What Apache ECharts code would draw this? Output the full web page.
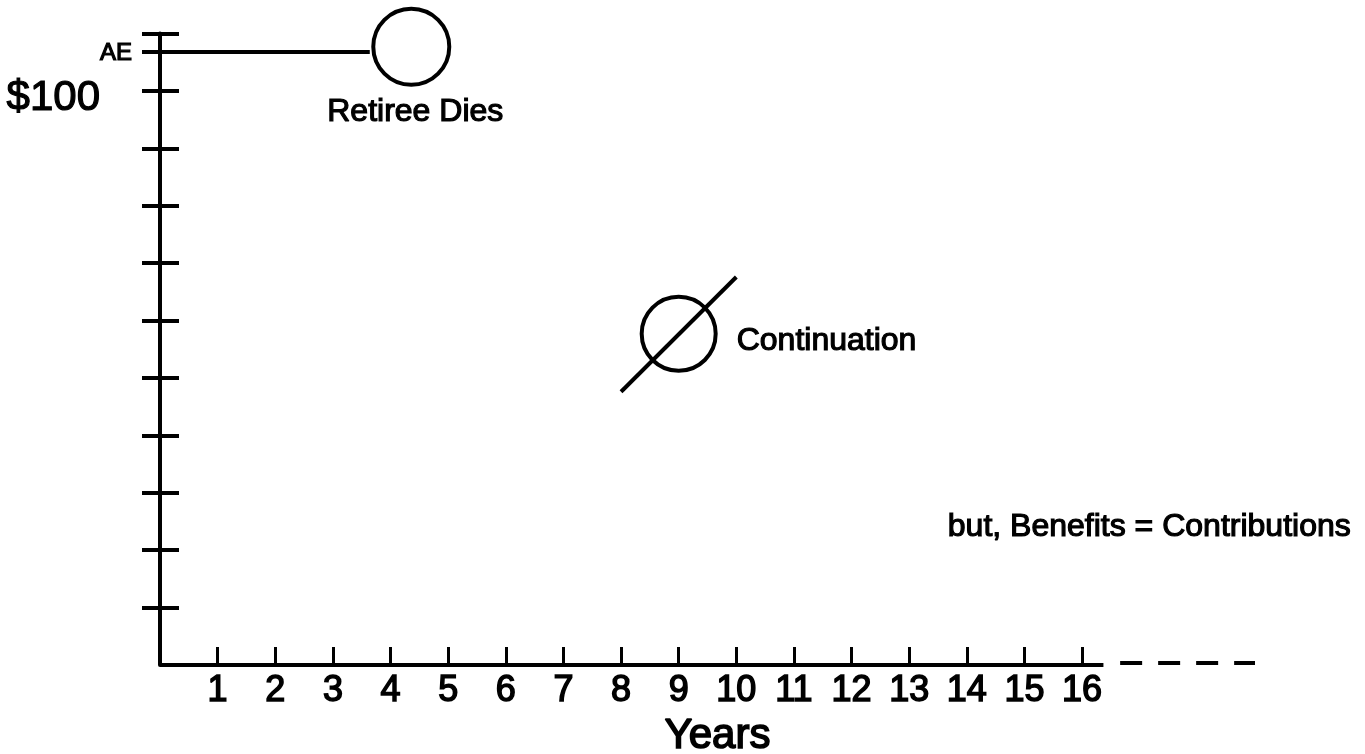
<!DOCTYPE html>
<html>
<head>
<meta charset="utf-8">
<script src="https://cdn.jsdelivr.net/npm/echarts@6/dist/echarts.min.js"></script>
<style>
html,body{margin:0;padding:0;background:#fff;}
#chart{width:1365px;height:754px;}
</style>
</head>
<body>
<div id="chart"></div>
<script>
// ---- data ----
const yearTicks = [1,2,3,4,5,6,7,8,9,10,11,12,13,14,15,16];
const aeLevel = 106.8;
const yTickValues = [10,20,30,40,50,60,70,80,90,100,110,aeLevel];
const yLabelValues = [100, aeLevel];
const aeLine = [[0, aeLevel],[3.64, aeLevel]];
const retireeDies = [[4.36, 107.7]];
const continuation = [[9.0, 57.7]];
const slash = [[8.0, 47.6],[10.0, 67.6]];
const xAxisSolid = [[0, 0],[16.37, 0]];
const xAxisDashed = [[16.66, 0.35],[19, 0.35]];
const note = [[13.67, 24.0]];

const FONT = "'Liberation Sans', Arial, sans-serif";
const heavy = {textBorderColor:'#000', textBorderWidth:1.2};
const chart = echarts.init(document.getElementById('chart'), null, {renderer:'canvas'});
const yCommon = {
  type:'value', min:0, max:110, interval:10, position:'left',
  splitLine:{show:false}
};
const circleStyle = {color:'rgba(255,255,255,0)', borderColor:'#000', borderWidth:4, opacity:1};
chart.setOption({
  animation:false,
  backgroundColor:'#fff',
  grid:{left:160, right:110, top:33.6, bottom:89, containLabel:false, outerBoundsMode:'none'},
  xAxis:{
    type:'value', min:0, max:19, interval:1,
    axisLine:{show:false},
    splitLine:{show:false},
    axisTick:{show:true, inside:true, length:18, customValues:yearTicks, lineStyle:{color:'#000', width:3}},
    axisLabel:{show:true, customValues:yearTicks, margin:8, color:'#000', fontFamily:FONT, fontSize:36, textBorderColor:'#000', textBorderWidth:1.5},
    name:'Years', nameLocation:'middle', nameGap:41,
    nameTextStyle:{color:'#000', fontFamily:FONT, fontSize:42, padding:[0,0,0,20], textBorderColor:'#000', textBorderWidth:1.6}
  },
  yAxis:[
    Object.assign({}, yCommon, {
      axisLine:{show:true, lineStyle:{color:'#000', width:4}},
      axisTick:{show:true, inside:false, length:18, customValues:yTickValues, lineStyle:{color:'#000', width:4}},
      axisLabel:{show:true, customValues:yLabelValues, margin:28, color:'#000',
        formatter:function(v){ return v === 100 ? '{b|$100}' : '{a|AE}'; },
        rich:{
          a:{fontFamily:FONT, fontSize:24, color:'#000', padding:[2,0,0,0], textBorderColor:'#000', textBorderWidth:1.2},
          b:{fontFamily:FONT, fontSize:42, color:'#000', padding:[15,32,0,0], textBorderColor:'#000', textBorderWidth:1.2}
        }
      }
    }),
    Object.assign({}, yCommon, {
      axisLine:{show:false},
      axisTick:{show:true, inside:true, length:19, customValues:yTickValues, lineStyle:{color:'#000', width:4}},
      axisLabel:{show:false}
    })
  ],
  series:[
    {type:'line', data:xAxisSolid, symbol:'none', clip:false, lineStyle:{color:'#000', width:4}},
    {type:'line', data:xAxisDashed, symbol:'none', clip:false, lineStyle:{color:'#000', width:4, type:[22,16]}},
    {type:'line', data:aeLine, symbol:'none', clip:false, lineStyle:{color:'#000', width:4}},
    {type:'line', data:slash, symbol:'none', clip:false, lineStyle:{color:'#000', width:4}, z:3},
    {type:'scatter', data:retireeDies, symbol:'circle', symbolSize:76, clip:false,
      itemStyle:circleStyle,
      label:Object.assign({show:true, position:'bottom', distance:9, offset:[4,0], formatter:'Retiree Dies', color:'#000', fontFamily:FONT, fontSize:32}, heavy)
    },
    {type:'scatter', data:continuation, symbol:'circle', symbolSize:74, clip:false,
      itemStyle:circleStyle,
      label:Object.assign({show:true, position:'right', distance:19, offset:[0,7], formatter:'Continuation', color:'#000', fontFamily:FONT, fontSize:32}, heavy)
    },
    {type:'scatter', data:note, symbolSize:0, clip:false,
      itemStyle:{opacity:1},
      label:Object.assign({show:true, position:'right', distance:0, formatter:'but, Benefits = Contributions', color:'#000', fontFamily:FONT, fontSize:32}, heavy)
    }
  ]
});
</script>
</body>
</html>
